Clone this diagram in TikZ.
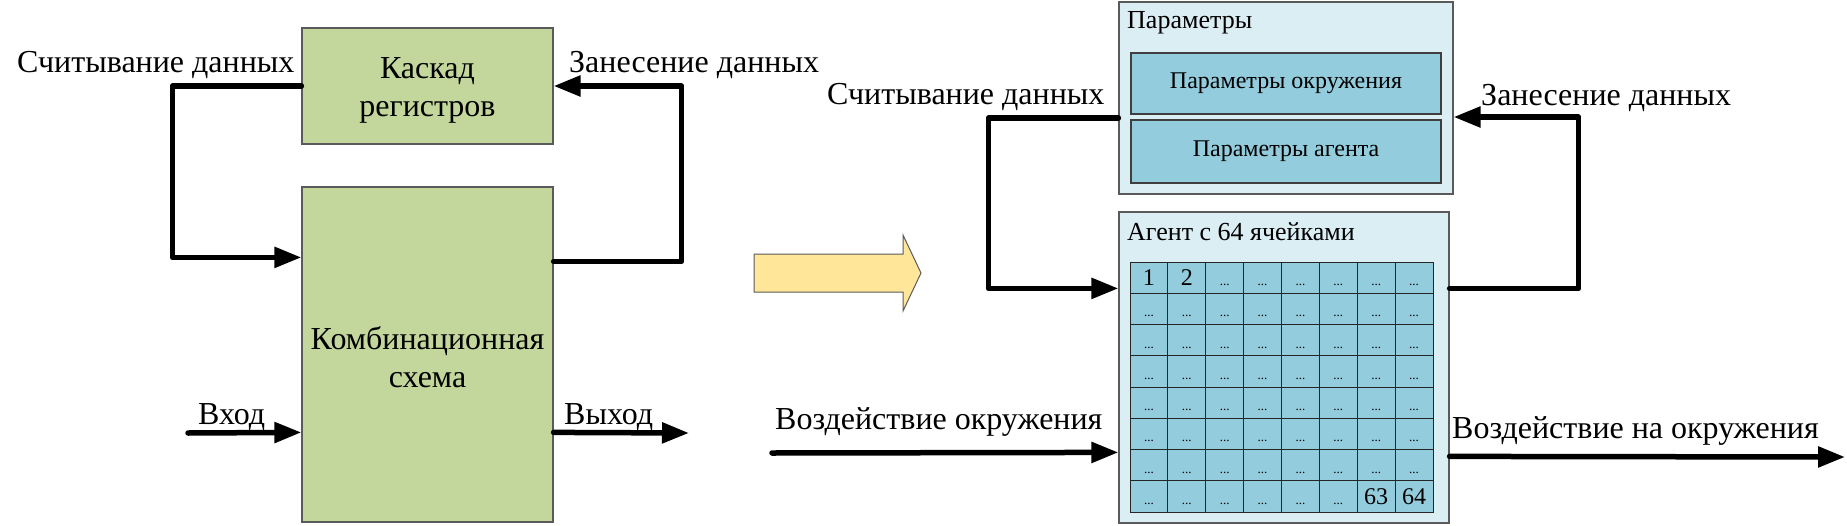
\documentclass[tikz,border=0pt]{standalone}
\usepackage{fontspec}
\setmainfont{Liberation Serif}
\newfontfamily\tnr{Liberation Serif}
\usetikzlibrary{arrows.meta,calc}
\definecolor{boxgreen}{HTML}{C3D69B}
\definecolor{paleblue}{HTML}{DBEEF4}
\definecolor{midblue}{HTML}{93CDDD}
\definecolor{bigarrow}{HTML}{FFE699}
\definecolor{edge}{HTML}{5A5A5A}
\newcommand\bigf{\tnr\fontsize{32}{38}\selectfont}
\newcommand\midf{\tnr\fontsize{24}{28}\selectfont}
\newcommand\titf{\tnr\fontsize{26}{30}\selectfont}
\newcommand\dotf{\tnr\fontsize{13}{15}\selectfont}
\tikzset{
  greenbox/.style={draw=edge,line width=1.2pt,fill=boxgreen,minimum width=251pt,inner sep=0pt,align=center,font=\bigf},
  outerbox/.style={draw=edge,line width=1.2pt,fill=paleblue,inner sep=0pt},
  innerbox/.style={draw=edge!70!black,line width=1.2pt,fill=midblue,inner sep=0pt,minimum width=310pt,font=\midf},
  cellbox/.style={draw=black!85,line width=1pt,fill=midblue,inner sep=0pt,minimum width=37.875pt,minimum height=31.25pt,text height=16pt,text depth=0pt},
  lab/.style={inner sep=0pt,anchor=base west},
  conn/.style={line width=5.5pt,line cap=round,line join=round,-{Triangle[length=27pt,width=20pt]}}
}
\begin{document}
\begin{tikzpicture}[x=1pt,y=-1pt]
\useasboundingbox (0,0) rectangle (1847,525);
% left part
\node[greenbox,minimum height=116pt] (kask) at (427.5,86) {\rule{0pt}{30pt}Каскад\\регистров};
\node[greenbox,minimum height=335pt] (comb) at (427.5,354.5) {\rule{0pt}{28pt}Комбинационная\\схема};
\node[lab,font=\bigf] (l1) at (17,72) {Считывание данных};
\node[lab,font=\bigf] (l2) at (569,72) {Занесение данных};
\node[lab,font=\bigf] (lin) at (198,424) {Вход};
\node[lab,font=\bigf] (lout) at (564,424) {Выход};
\coordinate (inL) at (188,433);
\coordinate (outL) at (689,433);
\draw[conn] (kask.west) -- ++(-129,0) |- ([yshift=-71pt]comb.north west);
\draw[conn] ([yshift=-75pt]comb.north east) -- ++(128,0) |- (kask.east);
\draw[conn] (inL) -- ([yshift=-246pt]comb.north west);
\draw[conn] ([yshift=-246pt]comb.north east) -- (outL);
% big arrow
\draw[draw=edge,line width=1pt,fill=bigarrow,line join=miter]
  (754,254) -- (903,254) -- (903,235) -- (921,273) -- (903,311) -- (903,292) -- (754,292) -- cycle;
% right part
\node[outerbox,minimum width=334pt,minimum height=192pt] (par) at (1286,98) {};
\node[lab,font=\titf] (ptitle) at (1127,28) {Параметры};
\node[innerbox,minimum height=61pt] (pe) at (1286,83.5) {Параметры окружения};
\node[innerbox,minimum height=63pt] (pa) at (1286,151.5) {Параметры агента};
\node[outerbox,minimum width=330pt,minimum height=311pt] (ag) at (1284,367.5) {};
\node[lab,font=\titf] (atitle) at (1127,240) {Агент с 64 ячейками};
\foreach \r in {1,...,8}{\foreach \c in {1,...,8}{
  \pgfmathsetmacro\xx{1130+(\c-0.5)*37.875}
  \pgfmathsetmacro\yy{262+(\r-0.5)*31.25}
  \pgfmathtruncatemacro\idx{(\r-1)*8+\c}
  \node[cellbox] (cell\idx) at (\xx,\yy) {\ifnum\idx=1 \midf 1\else\ifnum\idx=2 \midf 2\else\ifnum\idx=63 \midf 63\else\ifnum\idx=64 \midf 64\else\dotf ...\fi\fi\fi\fi};
}}
\node[lab,font=\bigf] (r1) at (827,104) {Считывание данных};
\node[lab,font=\bigf] (r2) at (1481,105) {Занесение данных};
\node[lab,font=\bigf] (r3) at (775,429) {Воздействие окружения};
\node[lab,font=\bigf] (r4) at (1452,438) {Воздействие на окружения};
\coordinate (inR) at (772,453);
\coordinate (outR) at (1845,457);
\draw[conn] ([yshift=-20pt]par.west) -- ++(-130,0) |- ([yshift=-77pt]ag.north west);
\draw[conn] ([yshift=-77pt]ag.north east) -- ++(129,0) |- ([yshift=-19pt]par.east);
\draw[conn] (inR) -- ([yshift=-241pt]ag.north west);
\draw[conn] ([yshift=-245pt]ag.north east) -- (outR);
\end{tikzpicture}
\end{document}
